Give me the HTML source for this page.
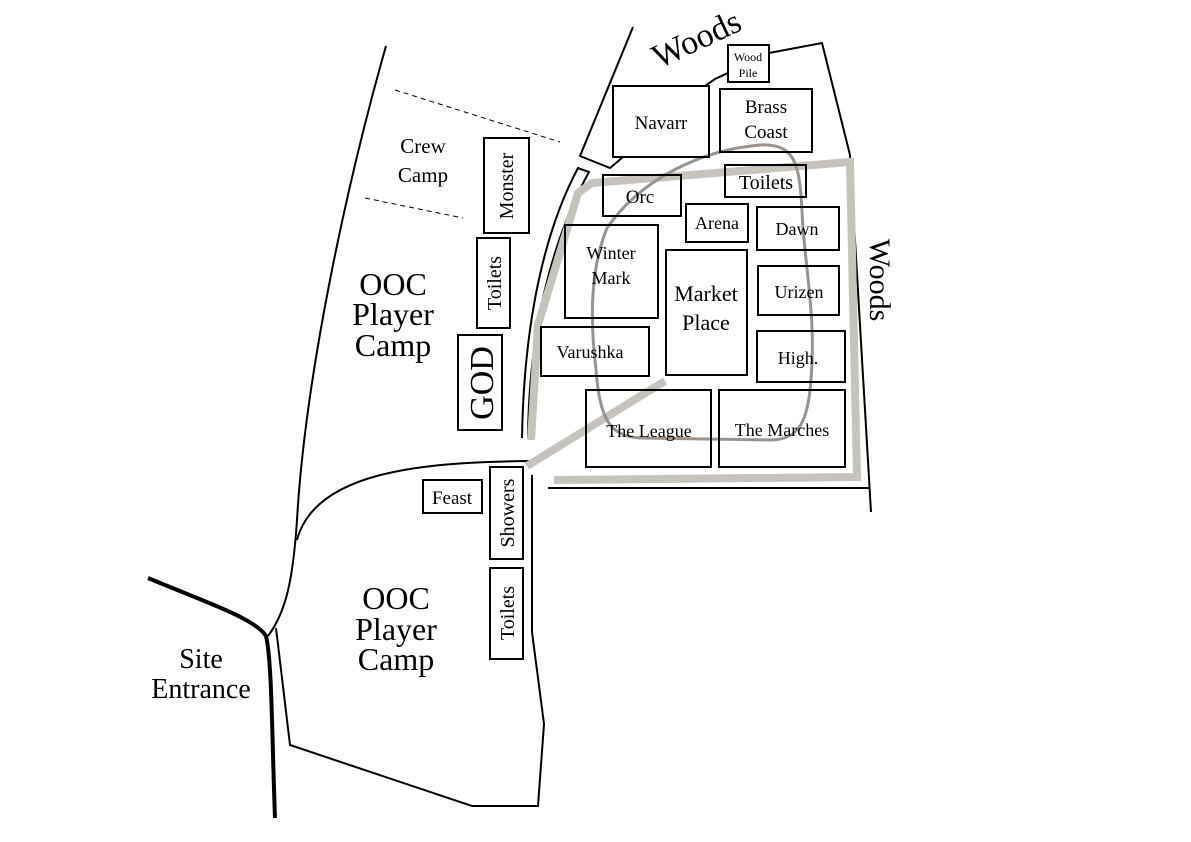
<!DOCTYPE html>
<html><head><meta charset="utf-8"><style>html,body{margin:0;padding:0;background:#fff}svg{display:block}text{font-family:"Liberation Serif",serif;fill:#000}</style></head><body>
<svg width="1191" height="842" viewBox="0 0 1191 842">
<g fill="none" stroke="#000" stroke-width="2">
<path d="M386,46 C345,190 305,380 297,520 C293,580 286,612 268,636"/>
<path d="M297,540 C315,472 420,462 530,461"/>
<path d="M276,628 L290,745 L472,806 L538,806 L544,724 L532,632 L532,475"/>
<path d="M522,438 C524,320 545,230 578,168 L589,172 C556,232 529,320 528,438"/>
<path d="M633,27 L580,156 L610,168 L623,157"/>
<path d="M705,86 L715,79 L728,73"/>
<path d="M769,53 L822,43 L850,155 L871,512"/>
<path d="M548,488 L870,488"/>
</g>
<path d="M148,578 C200,600 255,618 266,636 C272,660 272,740 275,818" fill="none" stroke="#000" stroke-width="4"/>
<g stroke="#000" stroke-width="1" stroke-dasharray="5,4">
<line x1="395" y1="90" x2="560" y2="142"/><line x1="365" y1="198" x2="463" y2="218"/>
</g>
<g fill="none" stroke="#c6c3bd" stroke-width="8">
<path d="M554,480 L857,477 L850,162 L592,183 L578,193 L538,325 L531,440"/>
<path d="M527,466 L665,381"/>
</g>
<path d="M607,228 C640,180 700,150 760,145 C800,143 800,170 803,230 C810,300 815,330 811,380 C808,420 800,440 770,440 L640,438 C610,436 600,420 596,370 C590,320 590,270 607,228 Z" fill="none" stroke="#9a928c" stroke-width="3"/>
<g fill="none" stroke="#000" stroke-width="2">
<rect x="728" y="45" width="41" height="37"/>
<rect x="613" y="86" width="96" height="71"/>
<rect x="720" y="89" width="92" height="63"/>
<rect x="603" y="175" width="78" height="41"/>
<rect x="725" y="165" width="81" height="32"/>
<rect x="686" y="204" width="62" height="38"/>
<rect x="757" y="207" width="82" height="43"/>
<rect x="565" y="225" width="93" height="93"/>
<rect x="666" y="250" width="81" height="125"/>
<rect x="758" y="266" width="81" height="49"/>
<rect x="541" y="327" width="108" height="49"/>
<rect x="757" y="331" width="88" height="51"/>
<rect x="586" y="390" width="125" height="77"/>
<rect x="719" y="390" width="126" height="77"/>
<rect x="484" y="138" width="45" height="95"/>
<rect x="477" y="238" width="33" height="90"/>
<rect x="458" y="335" width="44" height="95"/>
<rect x="423" y="480" width="59" height="33"/>
<rect x="490" y="467" width="33" height="92"/>
<rect x="490" y="568" width="33" height="91"/>
</g>
<g text-anchor="middle">
<text x="748" y="61" font-size="12">Wood</text><text x="748" y="77" font-size="12">Pile</text>
<text x="661" y="129" font-size="19">Navarr</text>
<text x="766" y="113" font-size="19">Brass</text><text x="766" y="138" font-size="19">Coast</text>
<text x="640" y="203" font-size="19">Orc</text>
<text x="766" y="189" font-size="20">Toilets</text>
<text x="717" y="229" font-size="18">Arena</text>
<text x="797" y="235" font-size="18">Dawn</text>
<text x="611" y="259" font-size="18">Winter</text><text x="611" y="284" font-size="18">Mark</text>
<text x="706" y="301" font-size="22">Market</text><text x="706" y="330" font-size="22">Place</text>
<text x="799" y="298" font-size="18">Urizen</text>
<text x="590" y="358" font-size="18">Varushka</text>
<text x="798" y="364" font-size="18">High.</text>
<text x="649" y="437" font-size="18">The League</text>
<text x="782" y="436" font-size="18">The Marches</text>
<text x="452" y="504" font-size="19">Feast</text>
<text x="423" y="153" font-size="21">Crew</text><text x="423" y="182" font-size="21">Camp</text>
<text x="393" y="295" font-size="32">OOC</text><text x="393" y="325" font-size="32">Player</text><text x="393" y="356" font-size="32">Camp</text>
<text x="396" y="609" font-size="32">OOC</text><text x="396" y="640" font-size="32">Player</text><text x="396" y="670" font-size="32">Camp</text>
<text x="201" y="668" font-size="28">Site</text><text x="201" y="698" font-size="28">Entrance</text>
<text transform="translate(506,186) rotate(-90)" font-size="20" dy="7">Monster</text>
<text transform="translate(494,283) rotate(-90)" font-size="20" dy="7">Toilets</text>
<text transform="translate(481,383) rotate(-90)" font-size="34" dy="12">GOD</text>
<text transform="translate(507,513) rotate(-90)" font-size="20" dy="7">Showers</text>
<text transform="translate(507,613) rotate(-90)" font-size="20" dy="7">Toilets</text>
<text transform="translate(697,40) rotate(-25)" font-size="34" dy="10">Woods</text>
<text transform="translate(880,280) rotate(90)" font-size="30" dy="10">Woods</text>
</g>
</svg>
</body></html>
